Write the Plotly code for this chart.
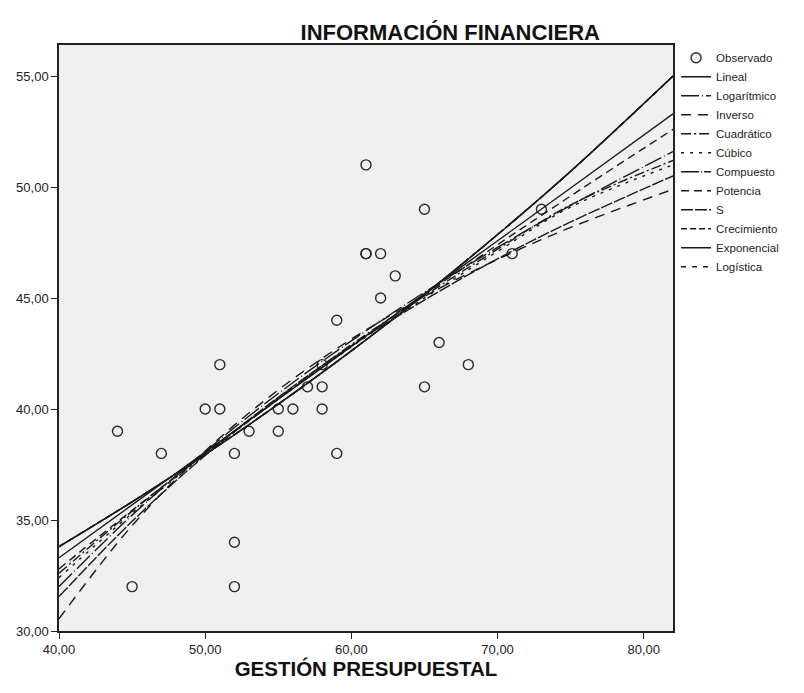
import plotly.graph_objects as go

# Observed data (GESTIÓN PRESUPUESTAL vs INFORMACIÓN FINANCIERA)
x_obs = [44, 45, 47, 50, 51, 51, 52, 52, 52, 53, 55, 55, 56, 57, 58, 58, 58, 59, 59,
         61, 61, 61, 62, 62, 63, 65, 65, 66, 68, 71, 73]
y_obs = [39, 32, 38, 40, 42, 40, 38, 34, 32, 39, 40, 39, 40, 41, 42, 41, 40, 38, 44,
         51, 47, 47, 47, 45, 46, 49, 41, 43, 42, 47, 49]

# Fitted curves, values at these x positions
x_fit = [40, 45, 50, 55, 60, 65, 70, 75, 82]
y_lineal = [33.3, 35.68, 38.06, 40.44, 42.82, 45.2, 47.58, 49.96, 53.3]
y_log = [32.0, 35.22, 38.09, 40.7, 43.07, 45.26, 47.28, 49.17, 51.6]
y_inverso = [30.55, 34.75, 38.11, 40.86, 43.15, 45.08, 46.74, 48.18, 49.9]
y_cuadratico = [32.6, 35.4, 38.0, 40.5, 42.9, 45.1, 47.2, 49.2, 51.2]
y_cubico = [32.4, 35.3, 37.95, 40.45, 42.8, 45.0, 47.1, 49.1, 51.0]
y_potencia = [32.8, 35.44, 37.98, 40.45, 42.83, 45.15, 47.4, 49.6, 52.6]
y_s = [31.55, 34.94, 37.91, 40.53, 42.85, 44.91, 46.77, 48.43, 50.5]
y_expo = [33.8, 35.82, 37.95, 40.22, 42.62, 45.16, 47.86, 50.71, 55.0]

x_ticks = [40, 50, 60, 70, 80]
y_ticks = [30, 35, 40, 45, 50, 55]

INK = "#1a1a1a"
fig = go.Figure()
fig.add_trace(go.Scatter(
    x=x_obs, y=y_obs, mode="markers", name="Observado",
    marker=dict(symbol="circle-open", size=10, color="#2a2a2a", line=dict(width=1.4)),
))

curves = [
    ("Lineal", y_lineal, "solid"),
    ("Logarítmico", y_log, "18px,3px,1px,3px"),
    ("Inverso", y_inverso, "10px,7px"),
    ("Cuadrático", y_cuadratico, "10px,3px,2px,3px"),
    ("Cúbico", y_cubico, "3px,6px"),
    ("Compuesto", y_expo, "18px,2px,1px,2px"),
    ("Potencia", y_potencia, "8px,5px"),
    ("S", y_s, "12px,2px"),
    ("Crecimiento", y_expo, "6px,3px"),
    ("Exponencial", y_expo, "solid"),
    ("Logística", y_expo, "5px,6px"),
]
for name, ys, dash in curves:
    fig.add_trace(go.Scatter(
        x=x_fit, y=ys, mode="lines", name=name, line_shape="spline",
        line=dict(color=INK, width=1.4, dash=dash),
    ))

fig.update_layout(
    width=804, height=693,
    margin=dict(l=59, r=131, t=45, b=62, autoexpand=False),
    paper_bgcolor="white", plot_bgcolor="#F0F0F0",
    separators=",.",
    font=dict(family="Liberation Sans, Arial, sans-serif", size=13, color="#222222"),
    title=dict(text="<b>INFORMACIÓN FINANCIERA</b>", x=0.56, xref="container",
               xanchor="center", y=0.953, yanchor="middle",
               font=dict(size=22, color="#111111")),
    legend=dict(x=1.005, y=1.003, xanchor="left", yanchor="top",
                bgcolor="rgba(0,0,0,0)", font=dict(size=11.5, color="#222222"),
                itemwidth=30, tracegroupgap=0),
    showlegend=True,
)
fig.update_xaxes(
    range=[40, 82], tickvals=x_ticks, tickformat=".2f", automargin=False,
    showgrid=False, zeroline=False, showline=True, linecolor="#222222", linewidth=1.5,
    mirror=True, ticks="outside", ticklen=6, tickcolor="#222222",
    title=dict(text="<b>GESTIÓN PRESUPUESTAL</b>", font=dict(size=20.5, color="#111111"), standoff=1),
)
fig.update_yaxes(
    range=[30, 56.4], tickvals=y_ticks, tickformat=".2f", automargin=False,
    showgrid=False, zeroline=False, showline=True, linecolor="#222222", linewidth=1.5,
    mirror=True, ticks="outside", ticklen=6, tickcolor="#222222",
)

fig.write_html("out.html", config={"displayModeBar": False},
               post_script="document.body.style.margin='0';")
